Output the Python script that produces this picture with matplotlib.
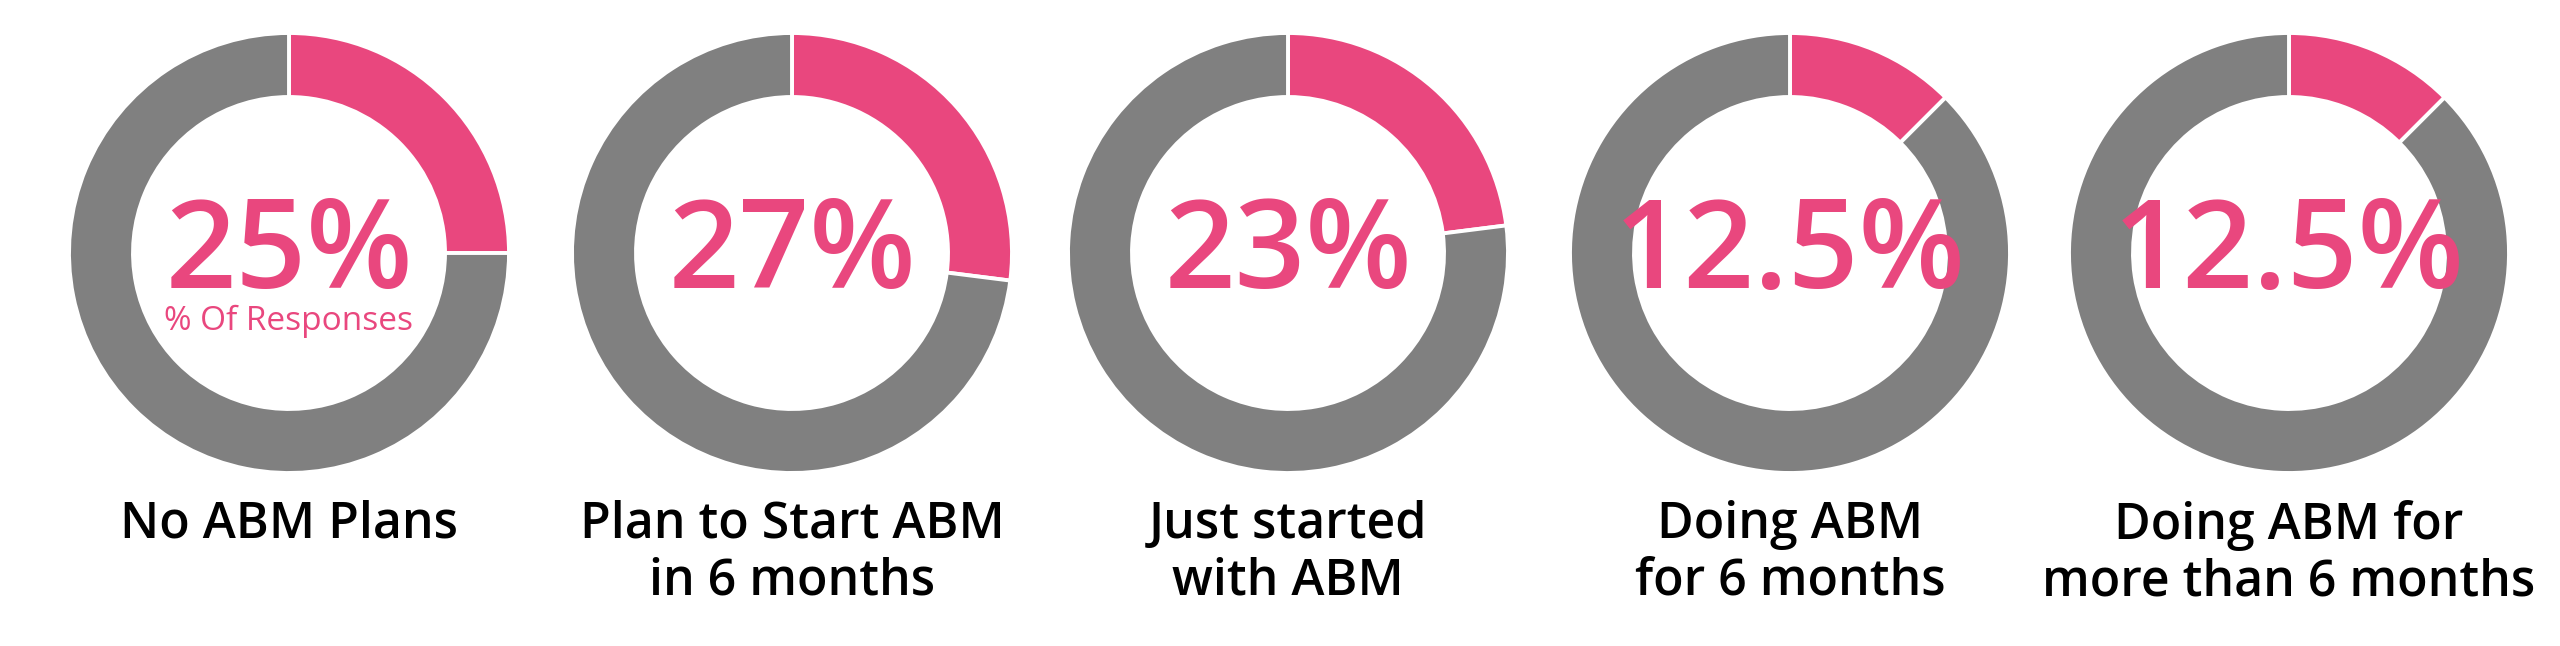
import matplotlib
matplotlib.use("Agg")
import matplotlib.pyplot as plt

# Data
categories = ["No ABM Plans", "Plan to Start ABM\nin 6 months", "Just started\nwith ABM",
              "Doing ABM\nfor 6 months", "Doing ABM for\nmore than 6 months"]
values = [25, 27, 23, 12.5, 12.5]
value_labels = ["25%", "27%", "23%", "12.5%", "12.5%"]
sub_labels = ["% Of Responses", "", "", "", ""]

PINK = "#E9477E"
GRAY = "#808080"
FONT = ["Open Sans", "DejaVu Sans"]

W, H = 2560, 646
fig = plt.figure(figsize=(W / 100, H / 100), dpi=100)
ax = fig.add_axes([0, 0, 1, 1])

centers_x = [289, 792, 1288, 1790, 2289]
cy = H - 253
R = 220
ring_w = 64

for i, (cat, v) in enumerate(zip(categories, values)):
    cx = centers_x[i]
    ax.pie([v, 100 - v], colors=[PINK, GRAY], startangle=90, counterclock=False,
           center=(cx, cy), radius=R, frame=True,
           wedgeprops=dict(width=ring_w, edgecolor="white", linewidth=2.8))
    ax.text(cx, H - 288, value_labels[i], ha="center", va="baseline",
            fontsize=89, color=PINK, family=FONT, fontweight="semibold")
    if sub_labels[i]:
        ax.text(cx, H - 330, sub_labels[i], ha="center", va="baseline",
                fontsize=24, color=PINK, family=FONT)
    ax.text(cx, H - 500, cat, ha="center", va="top", fontsize=36,
            color="black", family=FONT, fontweight="semibold", linespacing=1.17)

ax.set_xlim(0, W)
ax.set_ylim(0, H)
ax.set_aspect("equal")
ax.axis("off")
fig.savefig("out.png", dpi=100, facecolor="white")
